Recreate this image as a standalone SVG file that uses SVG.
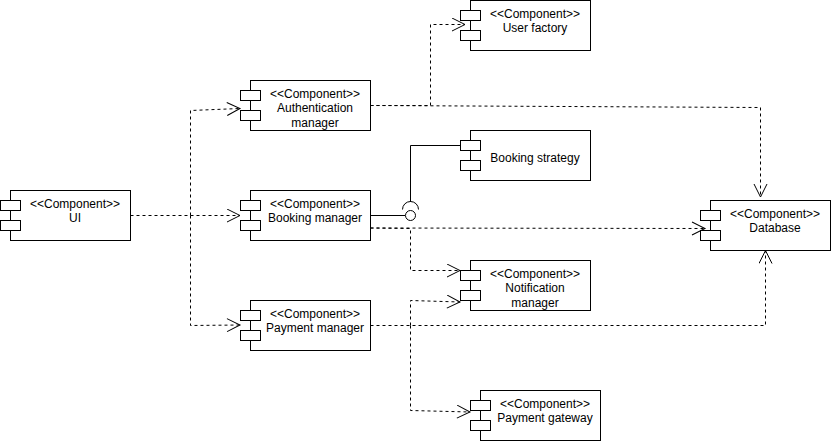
<svg xmlns="http://www.w3.org/2000/svg" width="831" height="441" viewBox="0 0 831 441">
<style>
.b{fill:#fff;stroke:#000;stroke-width:1}
.d{fill:none;stroke:#000;stroke-width:1;stroke-dasharray:3 3}
.s{fill:none;stroke:#000;stroke-width:1}
.a{fill:none;stroke:#000;stroke-width:1}
text{font-family:"Liberation Sans",Arial,sans-serif;font-size:12px;fill:#000;text-anchor:middle}
</style>
<defs>
<g id="c"><rect class="b" x="10" y="0" width="120" height="50"/><rect class="b" x="0" y="10" width="20" height="10"/><rect class="b" x="0" y="30" width="20" height="10"/></g>
<marker id="o" markerWidth="16" markerHeight="16" refX="14" refY="7" orient="auto" markerUnits="userSpaceOnUse"><path class="a" d="M1 0.500L14 7L1 13.500"/></marker>
</defs>
<g id="connectors">
<path class="d" d="M130.500 215.500H240" marker-end="url(#o)"/>
<path class="d" d="M190.500 215.500V110.500L240 108.500" marker-end="url(#o)"/>
<path class="d" d="M190.500 215.500V325.500L240 325" marker-end="url(#o)"/>
<path class="d" d="M370.500 105.500H430.500V24.500H465" marker-end="url(#o)"/>
<path class="d" d="M370.500 105.500L760.500 107.500V197" marker-end="url(#o)"/>
<path class="d" d="M370.500 228L705 228.500" marker-end="url(#o)"/>
<path class="d" d="M370.500 228L410.500 228.500V270.500H460" marker-end="url(#o)"/>
<path class="d" d="M370.500 325.500H765.500V250.500" marker-end="url(#o)"/>
<path class="d" d="M410.500 325.500V300.500L460 302" marker-end="url(#o)"/>
<path class="d" d="M410.500 325.500V410.500L470 412" marker-end="url(#o)"/>
<path class="s" d="M370.500 215.500H405"/>
<path class="s" d="M460 145.500H410.500V202"/>
<path class="s" d="M402.500 209.500A8 8 0 0 1 418.500 209.500"/>
<circle class="b" cx="410.500" cy="215.500" r="5"/>
</g>
<g id="ui"><use href="#c" x="0.500" y="190.500"/><text x="75" y="208">&lt;&lt;Component&gt;&gt;</text><text x="75" y="222">UI</text></g>
<g id="auth"><use href="#c" x="240.500" y="80.500"/><text x="315" y="98">&lt;&lt;Component&gt;&gt;</text><text x="315" y="112">Authentication</text><text x="315" y="127">manager</text></g>
<g id="booking"><use href="#c" x="240.500" y="190.500"/><text x="315" y="208">&lt;&lt;Component&gt;&gt;</text><text x="315" y="222">Booking manager</text></g>
<g id="payment"><use href="#c" x="240.500" y="300.500"/><text x="315" y="318">&lt;&lt;Component&gt;&gt;</text><text x="315" y="332">Payment manager</text></g>
<g id="userfactory"><use href="#c" x="460.500" y="0.500"/><text x="535" y="18">&lt;&lt;Component&gt;&gt;</text><text x="535" y="32">User factory</text></g>
<g id="strategy"><use href="#c" x="460.500" y="130.500"/><text x="535" y="162">Booking strategy</text></g>
<g id="notification"><use href="#c" x="460.500" y="260.500"/><text x="535" y="278">&lt;&lt;Component&gt;&gt;</text><text x="535" y="292">Notification</text><text x="535" y="307">manager</text></g>
<g id="gateway"><use href="#c" x="470.500" y="390.500"/><text x="545" y="408">&lt;&lt;Component&gt;&gt;</text><text x="545" y="422">Payment gateway</text></g>
<g id="database"><use href="#c" x="700.500" y="200.500"/><text x="775" y="218">&lt;&lt;Component&gt;&gt;</text><text x="775" y="232">Database</text></g>
</svg>
